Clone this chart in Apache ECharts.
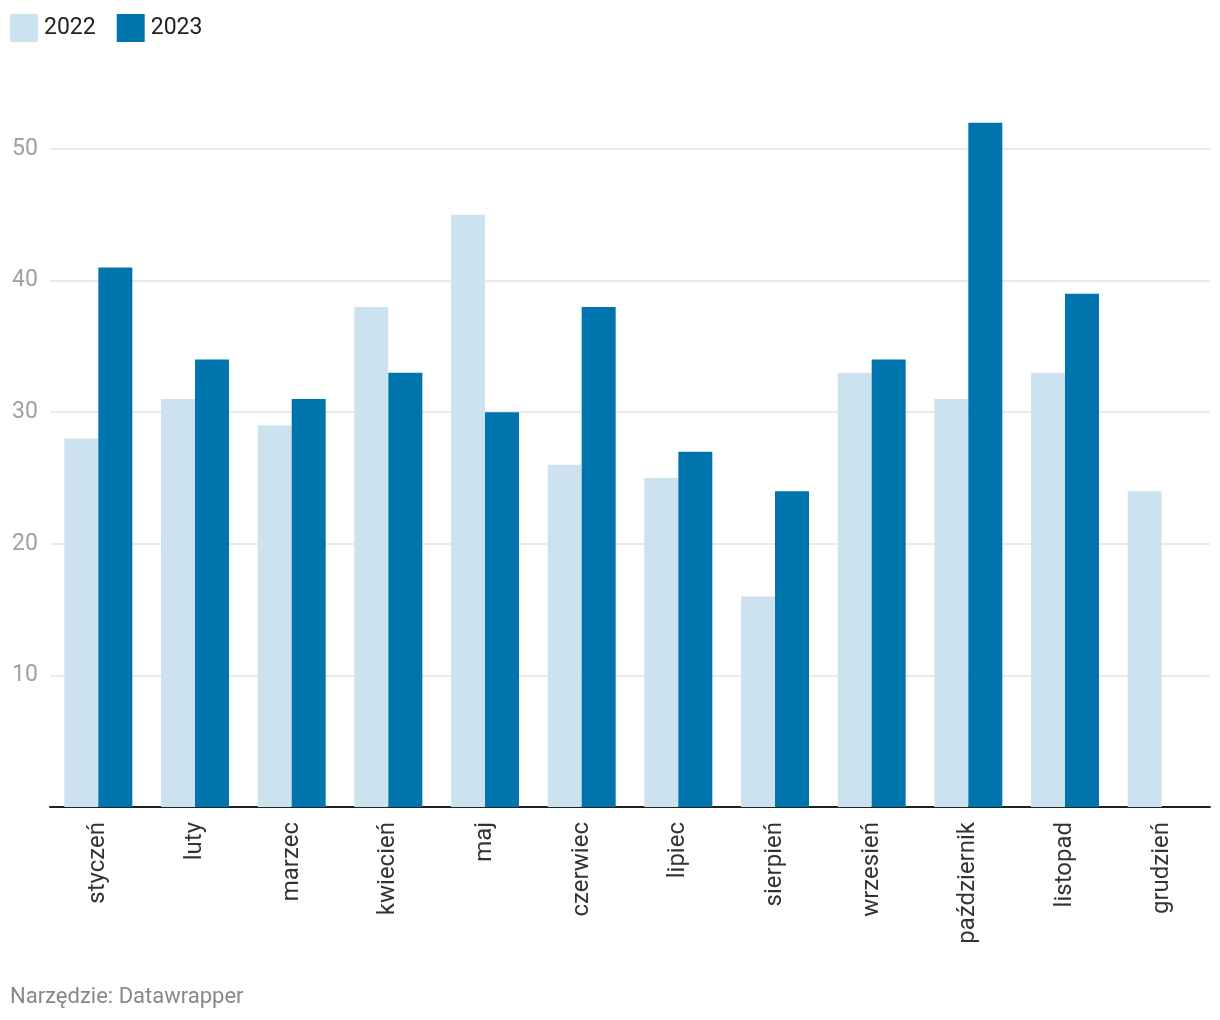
<!DOCTYPE html>
<html>
<head>
<meta charset="utf-8">
<script src="https://cdn.jsdelivr.net/npm/echarts@6/dist/echarts.min.js"></script>
<style>
html,body{margin:0;padding:0;background:#fff;}
#chart{width:1220px;height:1020px;}
</style>
</head>
<body>
<div id="chart"></div>
<script>
const categories = ['styczeń','luty','marzec','kwiecień','maj','czerwiec','lipiec','sierpień','wrzesień','październik','listopad','grudzień'];
const values2022 = [28,31,29,38,45,26,25,16,33,31,33,24];
const values2023 = [41,34,31,33,30,38,27,24,34,52,39,null];
const yTicks = [0,10,20,30,40,50];
const seriesNames = ['2022','2023'];
const footerText = 'Narzędzie: Datawrapper';

const chart = echarts.init(document.getElementById('chart'), null, {renderer:'canvas'});
const FONT = 'Roboto';
chart.setOption({
  animation:false,
  backgroundColor:'#ffffff',
  textStyle:{fontFamily:FONT},
  legend:{
    left:5, top:9,
    itemWidth:28, itemHeight:28, itemGap:21,
    icon:'rect',
    textStyle:{fontSize:23, color:'#222', fontFamily:FONT, padding:[0,0,0,1]},
    data:seriesNames
  },
  graphic:[{
    type:'text', left:10, top:986,
    style:{text:footerText, fontSize:22, fill:'#888', fontFamily:FONT}
  }],
  grid:{left:50, right:10, top:149, bottom:213, containLabel:false},
  xAxis:{
    type:'category',
    data:categories,
    axisLine:{lineStyle:{color:'#222', width:2}},
    axisTick:{show:false},
    axisLabel:{rotate:90, margin:15, fontSize:24, color:'#333', fontFamily:FONT}
  },
  yAxis:{
    type:'value', min:yTicks[0], max:yTicks[yTicks.length-1], interval:10,
    axisLine:{show:false}, axisTick:{show:false},
    splitLine:{lineStyle:{color:'#e3e3e3', width:1.5}},
    axisLabel:{
      align:'left', margin:38, fontSize:23, color:'#a0a0a0', fontFamily:FONT,
      formatter:v => (v===0 ? '' : String(v))
    }
  },
  series:[
    {name:seriesNames[0], type:'bar', data:values2022, barWidth:34, barGap:'0%', clip:false,
     itemStyle:{color:'#cce3ef'}},
    {name:seriesNames[1], type:'bar', data:values2023, barWidth:34, barGap:'0%', clip:false,
     itemStyle:{color:'#0075ad'}}
  ]
});
</script>
</body>
</html>
